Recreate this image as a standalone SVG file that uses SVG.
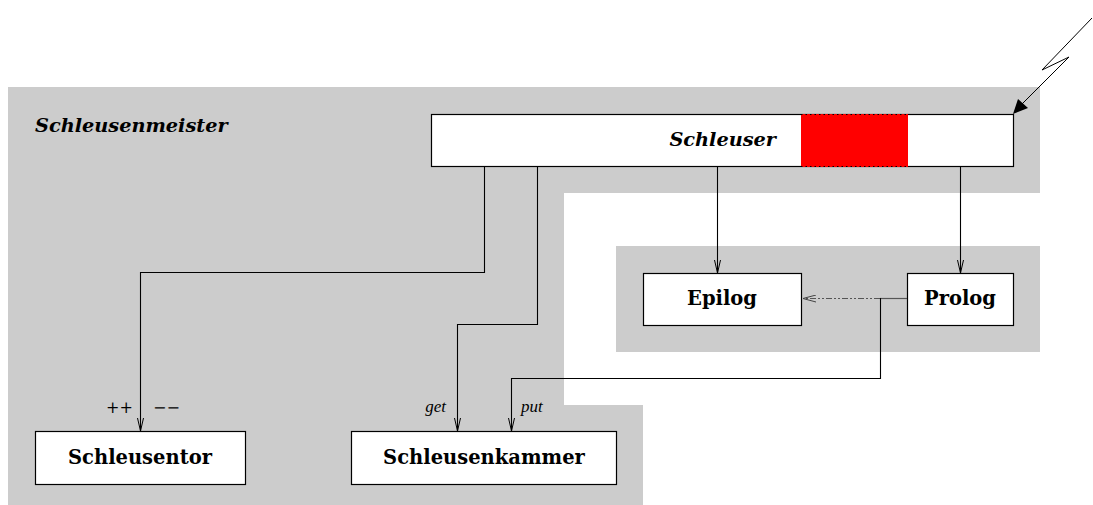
<svg xmlns="http://www.w3.org/2000/svg" width="1093" height="505" viewBox="0 0 1093 505">
<style>
.bg{fill:#cccccc;stroke:none}
.box{fill:#ffffff;stroke:#000;stroke-width:1.2}
.lbl{font-family:"DejaVu Serif","Liberation Serif",serif;font-weight:bold;font-size:19.5px;fill:#000;text-anchor:middle}
.it{font-family:"Liberation Serif","DejaVu Serif",serif;font-style:italic;font-size:17px;fill:#000}
.pm{font-family:"DejaVu Serif","Liberation Serif",serif;font-style:italic;font-size:16px;fill:#000}
.ttl{font-family:"DejaVu Serif","Liberation Serif",serif;font-style:italic;font-weight:bold;font-size:19.3px;fill:#000}
.con{fill:none;stroke:#000;stroke-width:1.1}
</style>
<defs>
<marker id="open" markerWidth="14" markerHeight="8" refX="13" refY="4" orient="auto" markerUnits="userSpaceOnUse" viewBox="0 0 14 8">
<path d="M0,1 L13,4 L0,7" fill="none" stroke="#000" stroke-width="1"/>
</marker>
<marker id="openL" markerWidth="14" markerHeight="8" refX="1" refY="4" markerUnits="userSpaceOnUse" viewBox="0 0 14 8">
<path d="M14,0.5 L1,4 L14,7.5" fill="none" stroke="#444" stroke-width="1"/>
</marker>
</defs>
<g id="background">
<polygon class="bg" points="8,87 1040,87 1040,193 564,193 564,405 643,405 643,505 8,505"/>
<rect class="bg" x="616" y="246" width="424" height="106"/>
</g>
<text class="ttl" x="35" y="132">Schleusenmeister</text>
<g id="schleuser">
<rect class="box" x="431.5" y="114.5" width="582" height="52"/>
<rect x="801" y="114" width="107" height="53" fill="#ff0000"/>
<line x1="801" y1="114.5" x2="908" y2="114.5" stroke="#000" stroke-width="1" stroke-dasharray="1.5,3"/>
<line x1="801" y1="166.5" x2="908" y2="166.5" stroke="#000" stroke-width="1" stroke-dasharray="1.5,3"/>
<text class="ttl" x="776" y="146" text-anchor="end">Schleuser</text>
</g>
<g id="epilog">
<rect class="box" x="643.5" y="273.5" width="158" height="52"/>
<text class="lbl" x="722" y="305">Epilog</text>
</g>
<g id="prolog">
<rect class="box" x="907.5" y="273.5" width="106" height="52"/>
<text class="lbl" x="960" y="305">Prolog</text>
</g>
<g id="schleusentor">
<rect class="box" x="35.5" y="431.5" width="210" height="53"/>
<text class="lbl" x="140" y="464">Schleusentor</text>
</g>
<g id="schleusenkammer">
<rect class="box" x="351.5" y="431.5" width="265" height="53"/>
<text class="lbl" x="484" y="464">Schleusenkammer</text>
</g>
<g id="connectors">
<polyline class="con" points="484.5,166 484.5,272.5 140.5,272.5 140.5,431" marker-end="url(#open)"/>
<polyline class="con" points="537.5,166 537.5,324.5 457.5,324.5 457.5,431" marker-end="url(#open)"/>
<polyline class="con" points="717.5,166 717.5,273" marker-end="url(#open)"/>
<polyline class="con" points="960.5,166 960.5,273" marker-end="url(#open)"/>
<line x1="907" y1="298.5" x2="880" y2="298.5" stroke="#555" stroke-width="1.2"/>
<line x1="880" y1="298.5" x2="803" y2="298.5" stroke="#555" stroke-width="1.2" stroke-dasharray="6,2,2,2,2,2" marker-end="url(#openL)"/>
<polyline class="con" points="880.5,298 880.5,378.5 511.5,378.5 511.5,431" marker-end="url(#open)"/>
<polyline fill="none" stroke="#000" stroke-width="1" points="1092,18 1042,70 1069,57 1022,104"/>
<polygon points="1013,114 1018,99 1028,108" fill="#000"/>
<text class="pm" x="106" y="413">++</text>
<text class="pm" x="153" y="413">−−</text>
<text class="it" x="446" y="412" text-anchor="end">get</text>
<text class="it" x="521" y="412">put</text>
</g>
</svg>
